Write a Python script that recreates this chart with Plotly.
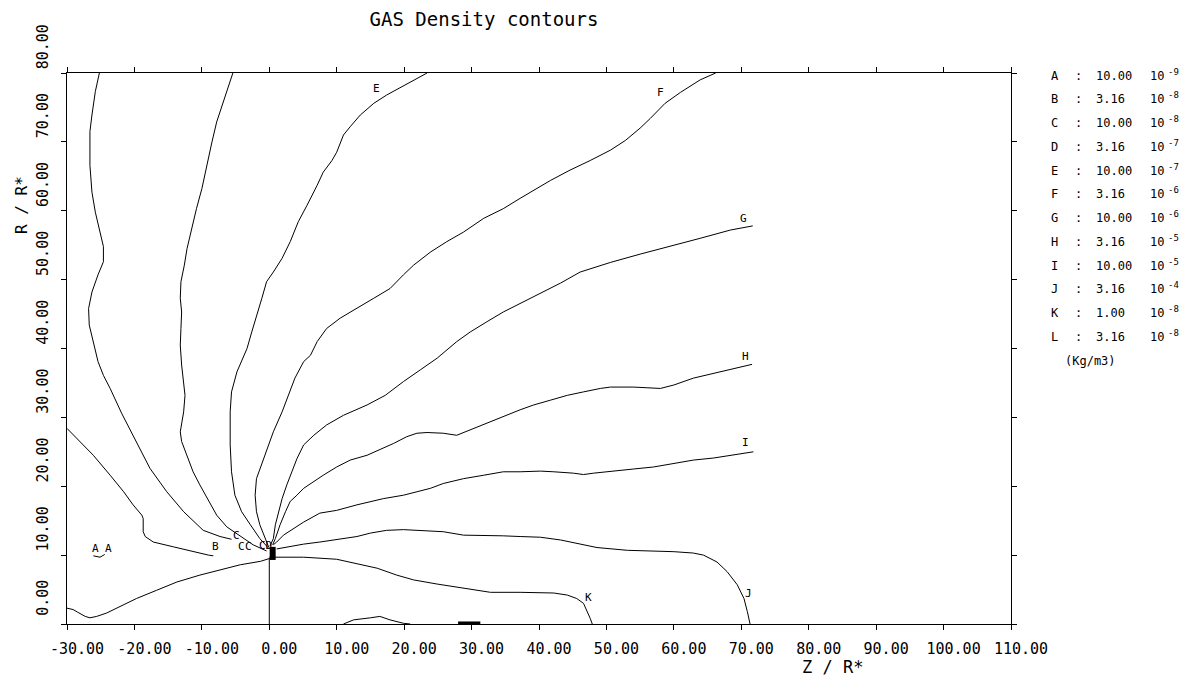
import plotly.graph_objects as go

# ---------------- data (Z / R*, R / R*) ----------------
a_z = [-30.0, -29.1, -28.4, -27.3, -26.6, -25.6, -24.1, -22.1, -19.7, -16.7, -13.7, -10.3, -7.3, -4.3, -1.3, 0.0]
a_r = [2.3, 2.1, 1.7, 1.1, 0.9, 1.1, 1.6, 2.5, 3.7, 4.9, 6.1, 7.1, 7.8, 8.6, 9.1, 9.5]
a2_z = [-26.1, -25.1, -24.4]
a2_r = [9.9, 9.7, 10.1]

b_z = [-30.0, -28.1, -26.1, -23.6, -21.6, -20.2, -18.9, -18.7, -18.7, -18.4, -17.2, -14.2, -11.3, -9.0, -8.3]
b_r = [28.4, 26.5, 24.5, 21.6, 19.2, 17.3, 15.8, 15.3, 13.4, 12.7, 11.9, 11.2, 10.5, 10.0, 9.9]

c_z = [-25.2, -25.8, -26.3, -26.6, -26.6, -26.3, -25.8, -25.1, -24.6, -24.6, -25.4, -26.3, -26.8, -26.7, -26.1,
       -25.4, -24.6, -23.6, -21.9, -19.9, -17.7, -15.2, -12.7, -9.8, -7.3, -5.6]
c_r = [80.0, 77.3, 73.9, 71.5, 66.6, 62.7, 59.8, 56.9, 54.8, 52.6, 50.7, 48.2, 45.8, 43.4, 41.0,
       38.1, 36.1, 34.2, 30.6, 26.7, 22.6, 19.2, 16.3, 13.6, 12.7, 12.3]

d_z = [-5.4, -6.1, -6.8, -7.8, -8.5, -9.3, -10.0, -10.8, -11.5, -12.2, -12.6, -13.1, -13.2, -13.0, -13.1, -13.2,
       -13.0, -12.5, -12.7, -13.2, -13.0, -12.2, -11.3, -10.3, -9.0, -7.8, -6.3, -4.3, -2.4, -0.4]
d_r = [80.0, 78.0, 75.8, 72.9, 70.0, 66.6, 63.2, 60.3, 57.4, 54.5, 52.1, 49.7, 47.3, 45.3, 42.9, 40.5,
       37.6, 33.2, 30.8, 27.9, 26.5, 24.5, 22.1, 20.2, 17.8, 15.8, 14.1, 12.7, 11.5, 10.6]

e_z = [23.4, 21.9, 19.9, 17.4, 15.5, 13.5, 12.0, 11.0, 10.0, 9.3, 8.0, 7.1, 5.6, 4.3, 3.1, 1.9, 0.6,
       -0.4, -1.1, -1.9, -2.6, -3.3, -4.8, -5.6, -5.8, -5.8, -5.6, -5.1, -4.1, -2.8, -1.4, -0.1]
e_r = [80.0, 79.2, 78.2, 76.8, 75.6, 73.9, 72.2, 71.0, 68.5, 67.3, 65.6, 63.7, 60.8, 58.4, 55.5, 53.1, 51.1,
       49.7, 47.3, 44.8, 42.4, 40.0, 36.6, 33.7, 30.8, 26.0, 22.1, 18.7, 16.3, 14.4, 12.4, 11.0]

f_z = [66.2, 63.9, 61.0, 58.7, 56.5, 55.0, 52.8, 50.6, 47.6, 44.6, 41.7, 38.7, 37.2, 34.7, 31.8, 28.8, 26.3,
       23.9, 21.4, 19.9, 17.9, 15.5, 13.0, 10.5, 8.5, 7.1, 6.1, 5.1, 3.8, 2.8, 1.9, 0.6, -0.6, -1.9, -2.1,
       -1.9, -1.4, -0.6, -0.1]
f_r = [80.0, 79.0, 77.2, 75.6, 73.4, 72.0, 70.2, 68.8, 67.3, 65.9, 64.4, 62.7, 61.8, 60.3, 58.9, 56.9, 55.5,
       54.0, 52.1, 50.7, 48.7, 47.3, 45.8, 44.4, 42.9, 41.0, 39.0, 38.1, 35.7, 33.2, 30.8, 27.9, 24.5, 21.1, 18.7,
       16.3, 14.4, 12.4, 11.2]

g_z = [71.7, 68.4, 63.9, 59.5, 55.0, 50.6, 46.1, 43.2, 40.2, 37.2, 34.7, 32.3, 29.8, 27.8, 24.9, 22.4, 19.9,
       17.2, 14.5, 11.0, 8.5, 6.6, 5.1, 4.1, 3.3, 2.6, 1.9, 1.4, 0.9, 0.6, 0.1]
g_r = [57.8, 57.2, 56.0, 54.9, 53.7, 52.5, 51.1, 49.5, 48.0, 46.5, 45.3, 43.9, 42.4, 41.0, 38.6, 36.9, 35.2,
       33.2, 31.8, 30.3, 28.9, 27.4, 26.0, 24.0, 22.1, 20.2, 18.2, 16.3, 14.4, 12.4, 11.3]

h_z = [71.6, 68.9, 65.9, 62.9, 60.0, 58.0, 56.0, 54.0, 50.6, 49.1, 46.6, 44.2, 41.7, 39.2, 37.2, 34.7, 32.3,
       29.8, 27.8, 25.8, 23.4, 21.9, 20.4, 18.4, 16.4, 14.5, 12.0, 10.0, 8.0, 6.6, 5.1, 4.1, 3.1, 2.4, 1.6,
       0.9, 0.5]
h_r = [37.7, 37.1, 36.4, 35.7, 34.7, 34.2, 34.3, 34.4, 34.4, 34.2, 33.7, 33.2, 32.5, 31.8, 31.1, 30.1, 29.1,
       28.2, 27.4, 27.7, 27.8, 27.7, 27.2, 26.2, 25.3, 24.5, 23.8, 22.8, 21.6, 20.7, 19.7, 18.7, 17.8, 16.3,
       14.4, 12.4, 11.5]

i_z = [71.8, 68.9, 65.9, 62.9, 60.0, 57.0, 54.0, 50.6, 48.1, 46.6, 45.1, 42.2, 40.2, 37.2, 34.7, 31.8, 28.8,
       25.8, 23.9, 21.9, 19.9, 16.9, 15.0, 13.0, 10.0, 7.5, 5.1, 3.6, 2.1, 1.1, 0.6]
i_r = [25.0, 24.6, 24.1, 23.8, 23.3, 22.8, 22.5, 22.2, 21.9, 21.7, 21.9, 22.1, 22.2, 22.1, 22.1, 21.6, 21.1,
       20.4, 19.7, 19.2, 18.7, 18.2, 17.8, 17.3, 16.5, 16.1, 14.8, 13.9, 12.9, 11.9, 11.5]

j_z = [1.1, 2.6, 5.1, 7.5, 10.0, 13.0, 15.0, 17.4, 19.9, 22.9, 25.8, 28.8, 31.8, 34.7, 37.2, 40.2, 43.2,
       46.1, 48.6, 53.1, 56.5, 60.0, 62.9, 64.4, 66.4, 67.9, 69.4, 70.4, 70.9, 71.3]
j_r = [10.9, 11.2, 11.6, 11.9, 12.3, 12.7, 13.2, 13.6, 13.7, 13.6, 13.4, 12.9, 12.9, 12.8, 12.7, 12.6, 12.2,
       11.6, 11.1, 10.7, 10.6, 10.5, 10.3, 10.0, 9.0, 7.6, 5.7, 3.7, 1.8, 0.0]

k_z = [0.0, 0.9, 5.1, 10.0, 13.0, 16.0, 18.9, 21.4, 24.9, 28.8, 32.8, 37.2, 40.4, 42.2, 44.2, 45.6, 46.6,
       47.2, 47.6, 47.9]
k_r = [9.7, 9.7, 9.7, 9.4, 8.8, 8.1, 7.1, 6.4, 5.8, 5.2, 4.6, 4.6, 4.6, 4.5, 4.2, 3.7, 3.0, 1.8, 0.8, 0.0]

l_z = [11.0, 12.5, 15.0, 16.4, 17.9, 19.9, 20.9]
l_r = [0.0, 0.6, 0.9, 1.1, 0.6, 0.1, 0.0]
l2_z = [28.0, 31.3]
l2_r = [0.15, 0.15]

axis_z = [0.0, 0.0]
axis_r = [9.6, 0.0]

# pile of overlapping labels at the origin (drawn as a dark blot)
pile_z = [0.5, 0.5]
pile_r = [11.2, 9.3]

# contour labels placed on the plot
lab_text = ["A", "A", "B", "C", "C", "C", "CD", "E", "F", "G", "H", "I", "J", "K"]
lab_z = [-25.8, -23.8, -8.0, -4.8, -4.1, -3.1, -0.6, 15.9, 58.0, 70.3, 70.6, 70.6, 71.1, 47.3]
lab_r = [11.0, 11.0, 11.2, 12.8, 11.3, 11.2, 11.4, 77.8, 77.2, 58.9, 38.8, 26.3, 4.5, 3.8]

# legend of contour levels
leg_letters = ["A", "B", "C", "D", "E", "F", "G", "H", "I", "J", "K", "L"]
leg_values = ["10.00", "3.16", "10.00", "3.16", "10.00", "3.16", "10.00", "3.16", "10.00", "3.16", "1.00", "3.16"]
leg_exps = ["-9", "-8", "-8", "-7", "-7", "-6", "-6", "-5", "-5", "-4", "-8", "-8"]

x_ticks = [-30, -20, -10, 0, 10, 20, 30, 40, 50, 60, 70, 80, 90, 100, 110]
x_ticktext = ["-30.00", "-20.00", "-10.00", "0.00", "10.00", "20.00", "30.00", "40.00", "50.00",
              "60.00", "70.00", "80.00", "90.00", "100.00", "110.00"]
y_ticks = [0, 10, 20, 30, 40, 50, 60, 70, 80]
y_ticktext = ["0.00", "10.00", "20.00", "30.00", "40.00", "50.00", "60.00", "70.00", "80.00"]

# ---------------- figure ----------------
FONT = "DejaVu Sans Mono"
OFF = 8                      # page body margin
W, H = 1189 - OFF, 679 - OFF
ML, MT = 67 - OFF, 73 - OFF  # plot area at page x 67..1010.6, y 73..624
PW, PH = 943.6, 551
MR = W - ML - PW
MB = H - MT - PH


def px(xp):  # page pixel -> paper fraction
    return (xp - OFF - ML) / PW


def py(yp):
    return (MT + PH - (yp - OFF)) / PH


fig = go.Figure()
curves = [(a_z, a_r, 1), (a2_z, a2_r, 1), (b_z, b_r, 1), (c_z, c_r, 1), (d_z, d_r, 1), (e_z, e_r, 1),
          (f_z, f_r, 1), (g_z, g_r, 1), (h_z, h_r, 1), (i_z, i_r, 1), (j_z, j_r, 1), (k_z, k_r, 1),
          (l_z, l_r, 1), (l2_z, l2_r, 3), (axis_z, axis_r, 1), (pile_z, pile_r, 6)]
for zs, rs, w in curves:
    fig.add_trace(go.Scatter(x=zs, y=rs, mode="lines", line=dict(color="black", width=w),
                             showlegend=False, hoverinfo="skip"))

for t, z, r in zip(lab_text, lab_z, lab_r):
    fig.add_annotation(x=z, y=r, xref="x", yref="y", text=t, showarrow=False,
                       font=dict(family=FONT, size=11, color="black"))

row0, drow = 75.7, 23.75
for k, (letter, val, ex) in enumerate(zip(leg_letters, leg_values, leg_exps)):
    yp = row0 + k * drow
    for xx, txt in [(1049, letter), (1073, ":"), (1094, val), (1148, "10")]:
        fig.add_annotation(x=px(xx), y=py(yp), xref="paper", yref="paper", text=txt, showarrow=False,
                           xanchor="left", yanchor="middle", font=dict(family=FONT, size=12, color="black"))
    fig.add_annotation(x=px(1166), y=py(yp - 4), xref="paper", yref="paper", text=ex, showarrow=False,
                       xanchor="left", yanchor="middle", font=dict(family=FONT, size=9, color="black"))
fig.add_annotation(x=px(1090), y=py(361), xref="paper", yref="paper", text="(Kg/m3)", showarrow=False,
                   xanchor="center", yanchor="middle", font=dict(family=FONT, size=12, color="black"))

# axis titles
fig.add_annotation(x=px(832), y=py(667), xref="paper", yref="paper", text="Z / R*", showarrow=False,
                   xanchor="center", yanchor="middle", font=dict(family=FONT, size=17, color="black"))
fig.add_annotation(x=px(21), y=py(205), xref="paper", yref="paper", text="R / R*", showarrow=False,
                   textangle=-90, xanchor="center", yanchor="middle",
                   font=dict(family=FONT, size=16, color="black"))

axis_common = dict(showgrid=False, zeroline=False, showline=True, linecolor="black", linewidth=1,
                   mirror="ticks", ticks="outside", ticklen=5, tickcolor="black", tickwidth=1,
                   tickfont=dict(family=FONT, size=15, color="black"))

fig.update_xaxes(range=[-30, 110], tickmode="array", tickvals=x_ticks, ticktext=x_ticktext,
                 ticklabelshift=10, ticklabelstandoff=6, **axis_common)
fig.update_yaxes(range=[0, 80], tickmode="array", tickvals=y_ticks, ticktext=y_ticktext,
                 tickangle=-90, ticklabelshift=-24, ticklabelstandoff=7, **axis_common)

fig.update_layout(
    width=W, height=H,
    margin=dict(l=ML, r=MR, t=MT, b=MB, autoexpand=False),
    paper_bgcolor="white", plot_bgcolor="white",
    title=dict(text="GAS Density contours", x=(484 - OFF) / W, xanchor="center", xref="container",
               y=1 - (19 - OFF) / H, yanchor="middle", yref="container",
               font=dict(family=FONT, size=19, color="black")),
    showlegend=False,
)

fig.write_html("out.html")
